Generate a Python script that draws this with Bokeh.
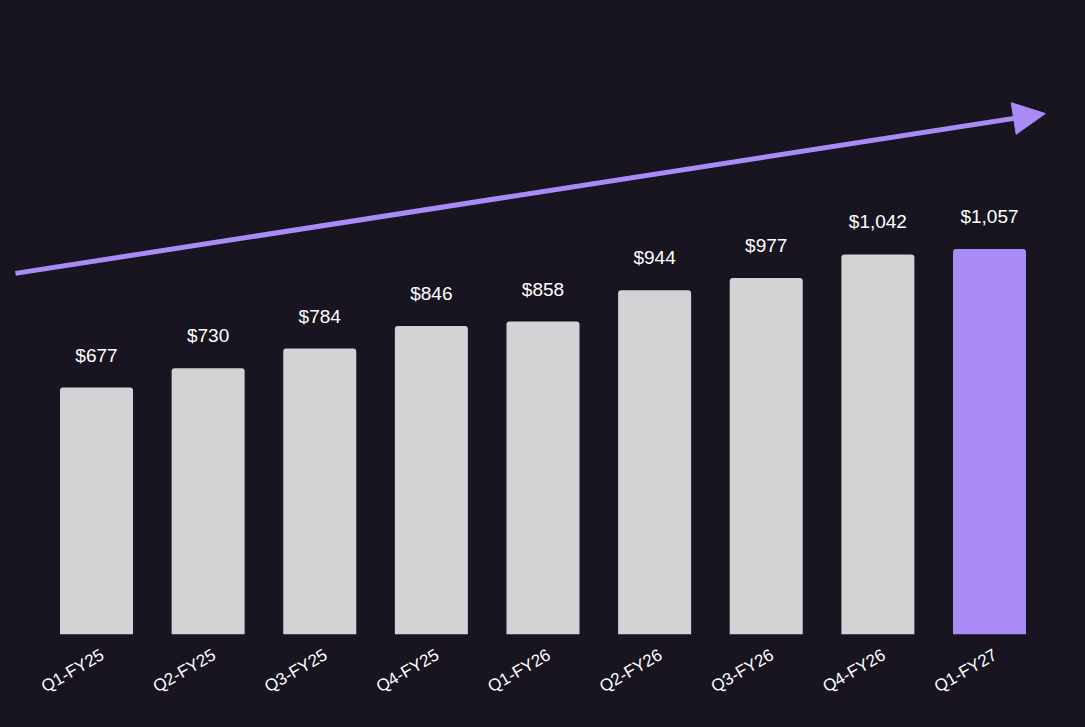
import math
from bokeh.plotting import figure
from bokeh.models import (ColumnDataSource, Range1d, Arrow, NormalHead,
                          LabelSet, LinearAxis, FixedTicker)
from bokeh.core.properties import value
from bokeh.embed import file_html
from bokeh.resources import INLINE

# ---- data ----
quarters = ["Q1-FY25", "Q2-FY25", "Q3-FY25", "Q4-FY25", "Q1-FY26",
            "Q2-FY26", "Q3-FY26", "Q4-FY26", "Q1-FY27"]
values = [677, 730, 784, 846, 858, 944, 977, 1042, 1057]
value_labels = ["$677", "$730", "$784", "$846", "$858", "$944", "$977", "$1,042", "$1,057"]

# trend arrow (x in category index units, y in value units)
trend_start = (-0.726, 990)
trend_end = (8.5, 1428)

BG = "#181520"
GRAY = "#d3d3d5"
PURPLE = "#a98bf6"
FONT = "Liberation Sans"
PAD = 0.86

idx = list(range(len(quarters)))
colors = [GRAY] * (len(quarters) - 1) + [PURPLE]
src = ColumnDataSource(dict(x=idx, q=quarters, v=values, lab=value_labels, c=colors))

p = figure(width=1085, height=727, output_backend="svg", toolbar_location=None,
           x_range=Range1d(-PAD, len(quarters) - 1 + PAD),
           y_range=Range1d(0, 1738), y_axis_location=None, x_axis_location=None,
           min_border_left=0, min_border_right=0, min_border_top=0,
           min_border_bottom=93)
p.background_fill_color = BG
p.border_fill_color = BG
p.outline_line_color = None
p.grid.visible = False

p.vbar(x="x", top="v", width=0.654, source=src, fill_color="c", line_color=None,
       border_radius=(3, 3, 0, 0))

labels = LabelSet(x="x", y="v", text="lab", source=src, text_align="center",
                  text_baseline="alphabetic", y_offset=26, text_color="#ffffff",
                  text_font=value(FONT), text_font_size="19px")
p.add_layout(labels)

p.add_layout(Arrow(x_start=trend_start[0], y_start=trend_start[1],
                   x_end=trend_end[0], y_end=trend_end[1],
                   line_color=PURPLE, line_width=5,
                   end=NormalHead(size=32, fill_color=PURPLE, line_color=PURPLE, line_width=1)))

# category label axis (twin range nudged slightly right)
shift = 0.054
p.extra_x_ranges["lab"] = Range1d(-PAD - shift, len(quarters) - 1 + PAD - shift)
ax = LinearAxis(x_range_name="lab", ticker=FixedTicker(ticks=idx),
                major_label_overrides={i: q for i, q in zip(idx, quarters)})
ax.axis_line_color = None
ax.major_tick_line_color = None
ax.minor_tick_line_color = None
ax.major_label_orientation = math.radians(30)
ax.major_label_text_color = "#ffffff"
ax.major_label_text_font = FONT
ax.major_label_text_font_size = "17px"
ax.major_label_standoff = 13
p.add_layout(ax, "below")

html = file_html(p, INLINE)
html = html.replace("</head>", "<style>html,body{background:%s;}</style></head>" % BG, 1)
open("out.html", "w").write(html)
